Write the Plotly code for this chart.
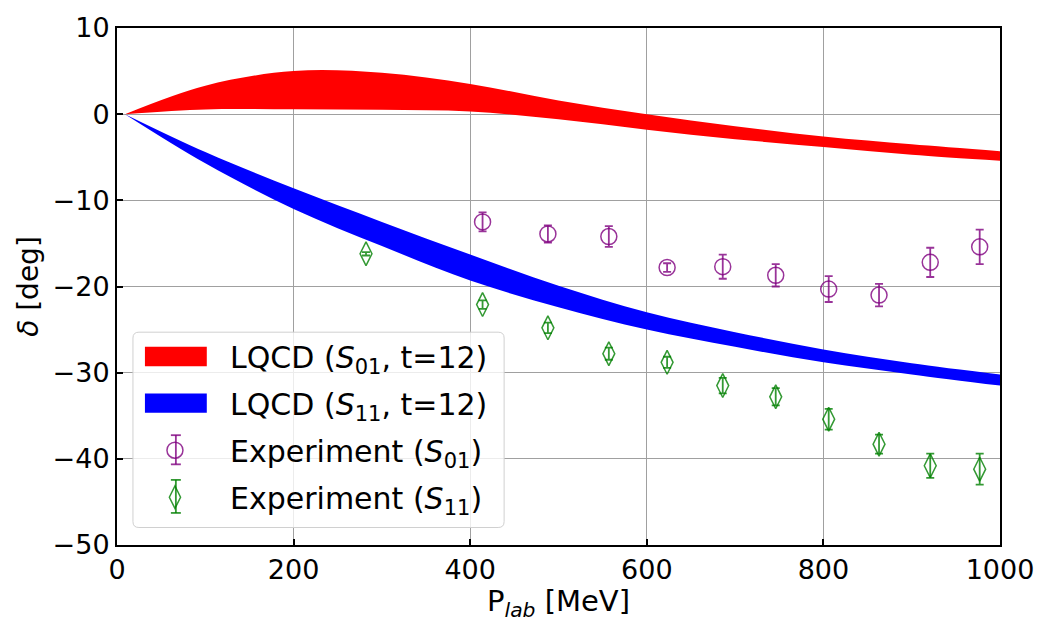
import plotly.graph_objects as go

# ---- data ----
# LQCD bands (P_lab in MeV, phase shift in degrees)
band_p = [9, 100, 200, 300, 400, 500, 600, 700, 800, 900, 1000]
s01_upper = [0.0, 3.3, 5.0, 4.8, 3.5, 1.6, 0.0, -1.4, -2.6, -3.5, -4.3]
s01_lower = [0.0, 0.55, 0.56, 0.5, 0.3, -0.6, -1.8, -2.9, -3.8, -4.7, -5.4]
s11_upper = [0.0, -4.4, -8.6, -12.5, -16.3, -19.9, -23.0, -25.3, -27.3, -28.9, -30.2]
s11_lower = [0.0, -5.7, -11.0, -15.3, -19.3, -22.4, -25.0, -27.0, -28.8, -30.2, -31.5]

# Experiment
exp01_p = [414, 488, 557, 623, 686, 746, 806, 863, 921, 977]
exp01_d = [-12.5, -13.9, -14.2, -17.8, -17.7, -18.7, -20.3, -21.0, -17.2, -15.4]
exp01_e = [1.1, 1.0, 1.2, 0.5, 1.4, 1.3, 1.5, 1.3, 1.7, 2.0]

exp11_p = [282, 414, 488, 557, 623, 686, 746, 806, 863, 921, 977]
exp11_d = [-16.2, -22.1, -24.8, -27.8, -28.8, -31.5, -32.8, -35.4, -38.3, -40.8, -41.2]
exp11_e = [0.2, 0.5, 0.6, 0.7, 0.65, 0.9, 1.0, 1.2, 1.1, 1.4, 1.8]

x_ticks = [0, 200, 400, 600, 800, 1000]
y_ticks = [10, 0, -10, -20, -30, -40, -50]

labels = ["LQCD (<i>S</i><sub>01</sub>, t=12)", "LQCD (<i>S</i><sub>11</sub>, t=12)",
          "Experiment (<i>S</i><sub>01</sub>)", "Experiment (<i>S</i><sub>11</sub>)"]

FONT = "DejaVu Sans"
FS = 27
LFS = 30
purple = "rgba(128,0,128,0.8)"
green = "rgba(0,128,0,0.8)"
PAD = "\u00a0\u00a0"

# plot-area geometry (pixels) used to place the legend decorations
W, H = 1046, 622
ML, MR, MT, MB = 117, 44, 17, 73
PW, PH = W - ML - MR, H - MT - MB


def px(xp):
    return (xp - ML) / PW


def py(yp):
    return (H - MB - yp) / PH


fig = go.Figure()

# bands
fig.add_trace(go.Scatter(x=band_p, y=s01_lower, mode="lines", line=dict(width=0, color="red", shape="spline"),
                         showlegend=False, hoverinfo="skip"))
fig.add_trace(go.Scatter(x=band_p, y=s01_upper, mode="lines", line=dict(width=0, color="red", shape="spline"),
                         fill="tonexty", fillcolor="red", showlegend=False))
fig.add_trace(go.Scatter(x=band_p, y=s11_lower, mode="lines", line=dict(width=0, color="blue", shape="spline"),
                         showlegend=False, hoverinfo="skip"))
fig.add_trace(go.Scatter(x=band_p, y=s11_upper, mode="lines", line=dict(width=0, color="blue", shape="spline"),
                         fill="tonexty", fillcolor="blue", showlegend=False))

# legend entries for the bands (their patches are drawn as shapes below)
fig.add_trace(go.Scatter(x=[None], y=[None], mode="lines", line=dict(width=0, color="rgba(0,0,0,0)"),
                         name=PAD + labels[0], legendgroup="a"))
fig.add_trace(go.Scatter(x=[None], y=[None], mode="lines", line=dict(width=0, color="rgba(0,0,0,0)"),
                         name=PAD + labels[1], legendgroup="b"))

fig.add_trace(go.Scatter(x=exp01_p, y=exp01_d, mode="markers",
                         marker=dict(symbol="circle-open", size=16, color=purple, line=dict(width=1.5, color=purple)),
                         error_y=dict(type="data", array=exp01_e, color=purple, thickness=1.8, width=4),
                         name=PAD + labels[2], legendgroup="c"))
fig.add_trace(go.Scatter(x=exp11_p, y=exp11_d, mode="markers",
                         marker=dict(symbol="diamond-tall-open", size=17, color=green, line=dict(width=1.5, color=green)),
                         error_y=dict(type="data", array=exp11_e, color=green, thickness=1.8, width=4),
                         name=PAD + labels[3], legendgroup="d"))

axis_common = dict(
    showgrid=True, gridcolor="#a0a0a0", gridwidth=1,
    showline=True, linecolor="black", linewidth=2, mirror=True,
    ticks="inside", ticklen=6, tickwidth=1.5, tickcolor="black",
    zeroline=False,
    tickfont=dict(family=FONT, size=FS, color="black"),
)

fig.update_xaxes(range=[0, 1000], tickvals=x_ticks, ticktext=[str(v) for v in x_ticks],
                 title=dict(text="P<sub><i>lab</i></sub> [MeV]", font=dict(family=FONT, size=29, color="black"),
                            standoff=4),
                 **axis_common)
fig.update_yaxes(range=[-50, 10], tickvals=y_ticks,
                 ticktext=[("\u2212" + str(-v)) if v < 0 else str(v) for v in y_ticks],
                 title=dict(text="<i>\u03b4</i> [deg]", font=dict(family=FONT, size=28, color="black"),
                            standoff=6),
                 **axis_common)

# legend frame (rounded, semi-transparent), band patches and error-bar glyphs
x0, x1, y0, y1, r = 133, 505, 330, 531, 6
frame = (f"M {px(x0 + r)},{py(y0)} L {px(x1 - r)},{py(y0)} Q {px(x1)},{py(y0)} {px(x1)},{py(y0 + r)} "
         f"L {px(x1)},{py(y1 - r)} Q {px(x1)},{py(y1)} {px(x1 - r)},{py(y1)} "
         f"L {px(x0 + r)},{py(y1)} Q {px(x0)},{py(y1)} {px(x0)},{py(y1 - r)} "
         f"L {px(x0)},{py(y0 + r)} Q {px(x0)},{py(y0)} {px(x0 + r)},{py(y0)} Z")
shapes = [
    dict(type="path", xref="paper", yref="paper", path=frame, layer="above",
         fillcolor="rgba(255,255,255,0.8)", line=dict(color="#d0d0d0", width=1)),
    dict(type="rect", xref="paper", yref="paper", layer="above",
         x0=px(145), x1=px(207), y0=py(365), y1=py(345), fillcolor="red", line=dict(width=0)),
    dict(type="rect", xref="paper", yref="paper", layer="above",
         x0=px(145), x1=px(207), y0=py(413), y1=py(393), fillcolor="blue", line=dict(width=0)),
]
for cy, half, col in [(451, 15, purple), (499, 17, green)]:
    cx = 176
    shapes.append(dict(type="line", xref="paper", yref="paper", layer="above",
                       x0=px(cx), x1=px(cx), y0=py(cy - half), y1=py(cy + half), line=dict(color=col, width=1.8)))
    for yy in (cy - half, cy + half):
        shapes.append(dict(type="line", xref="paper", yref="paper", layer="above",
                           x0=px(cx - 5), x1=px(cx + 5), y0=py(yy), y1=py(yy), line=dict(color=col, width=1.8)))

fig.update_layout(
    width=W, height=H,
    margin=dict(l=ML, r=MR, t=MT, b=MB),
    paper_bgcolor="white", plot_bgcolor="white",
    font=dict(family=FONT, size=FS, color="black"),
    shapes=shapes,
    legend=dict(x=px(139), y=py(328), xanchor="left", yanchor="top",
                bgcolor="rgba(0,0,0,0)", borderwidth=0,
                font=dict(family=FONT, size=LFS, color="black"), itemwidth=62, tracegroupgap=5,
                traceorder="grouped"),
    showlegend=True,
)

fig.write_html("out.html")
